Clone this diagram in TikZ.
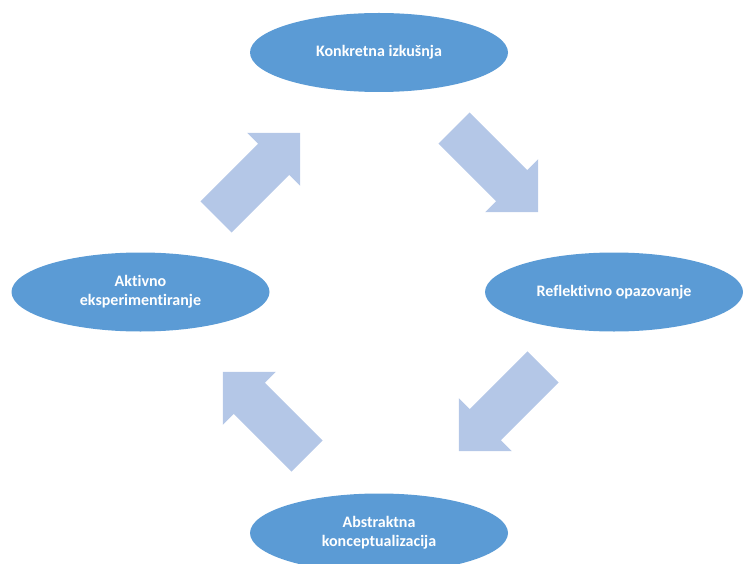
\documentclass[tikz,border=0pt]{standalone}
\usepackage{fontspec}
\setmainfont[Ligatures=NoCommon]{Carlito}
\usetikzlibrary{shapes.geometric}

\definecolor{stagefill}{HTML}{5B9BD5}
\definecolor{flowfill}{HTML}{B4C7E7}

\tikzset{
  stage/.style={ellipse, fill=stagefill, inner sep=0pt,
    minimum width=258pt, minimum height=79pt,
    text=white, align=center,
    font=\fontsize{16}{19}\selectfont\bfseries},
  blockarrow/.pic={
    \fill[flowfill] (0,-22) -- (81.5,-22) -- (81.5,-37.5) -- (119,0)
      -- (81.5,37.5) -- (81.5,22) -- (0,22) -- cycle;
  }
}

\begin{document}
\begin{tikzpicture}[x=1pt, y=1pt]
  \useasboundingbox (0,0) rectangle (743,563);

  % the four stages of the learning cycle
  \node[stage] (konkretna) at (379,510.5) {Konkretna izkušnja};
  \node[stage] (reflektivno) at (614,271) {Reflektivno opazovanje};
  \node[stage] (abstraktna) at (379,30) {Abstraktna\\konceptualizacija};
  \node[stage] (aktivno) at (140.5,271) {Aktivno\\eksperimentiranje};

  % block arrows running clockwise between the stages
  \coordinate (a1) at (216,346);
  \coordinate (a2) at (454,435);
  \coordinate (a3) at (543,196);
  \coordinate (a4) at (307,107);
  \pic[rotate=45] at (a1) {blockarrow};
  \pic[rotate=-45] at (a2) {blockarrow};
  \pic[rotate=-135] at (a3) {blockarrow};
  \pic[rotate=135] at (a4) {blockarrow};
\end{tikzpicture}
\end{document}
